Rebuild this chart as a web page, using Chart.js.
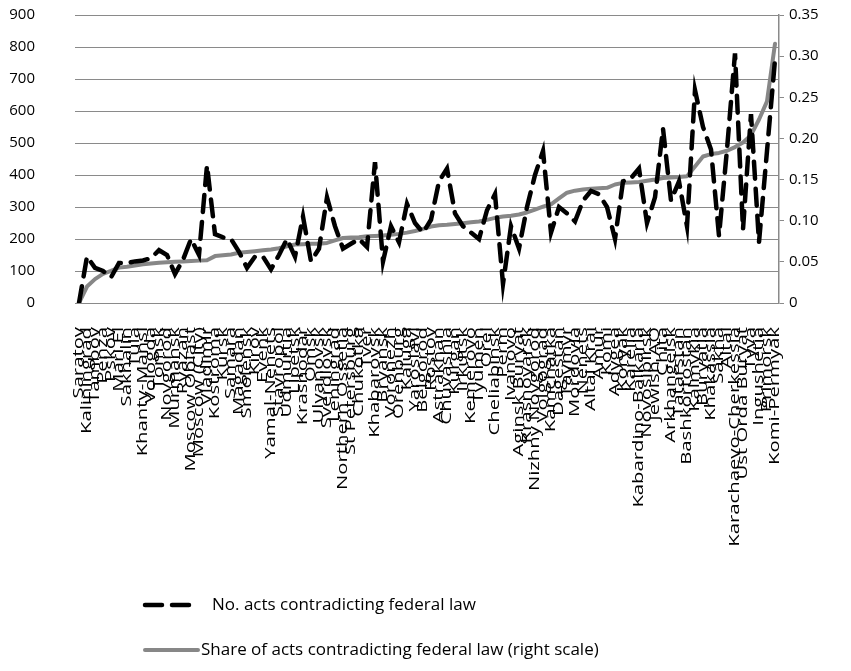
<!DOCTYPE html>
<html>
<head>
<meta charset="utf-8">
<script src="https://cdn.jsdelivr.net/npm/chart.js@4"></script>
<style>
  body { margin: 0; background: #fff; }
  #wrap { width: 851px; height: 671px; position: relative; }
</style>
</head>
<body>
<div id="wrap"><canvas id="chart"></canvas></div>
<script>
// Regions, sorted by share of acts contradicting federal law
const regions = [
    'Saratov', 'Kaliningrad', 'Tambov', 'Penza', 'Pskov', 'Mari El', 'Sakhalin', 'Tula',
    'Khanty-Mansi', 'Vologda', 'Tomsk', 'Novgorod', 'Murmansk', 'Ryazan', 'Moscow Oblast',
    'Moscow (City)', 'Vladimir', 'Kostroma', 'Kursk', 'Samara', 'Magadan', 'Smolensk', 'Kirov',
    'Evenk', 'Yamal-Nenets', 'Stavropol', 'Udmurtia', 'Lipetsk', 'Krasnodar', 'Omsk', 'Ulyanovsk',
    'Sverdlovsk', 'Leningrad', 'Northern Ossetia', 'St Petersburg', 'Chukotka', 'Tver',
    'Khabarovsk', 'Bryansk', 'Voronezh', 'Orenburg', 'Kaluga', 'Yaroslavl', 'Belgorod', 'Rostov',
    'Astrakhan', 'Chuvashia', 'Kurgan', 'Irkutsk', 'Kemerovo', 'Tyumen', 'Orel', 'Cheliabinsk',
    'Perm', 'Ivanovo', 'Aginsk Buryat', 'Krasnoyarsk', 'Nizhny Novgorod', 'Volgograd', 'Kamchatka',
    'Dagestan', 'Taymyr', 'Mordovia', 'Nenets', 'Altai Krai', 'Amur', 'Komi', 'Adygea', 'Koryak',
    'Karelia', 'Kabardino-Balkaria', 'Novosibirsk', 'Jewish AO', 'Chita', 'Arkhangelsk',
    'Tatarstan', 'Bashkortostan', 'Kalmykia', 'Buryatia', 'Khakassia', 'Sakha', 'Altai',
    'Karachaevo-Cherkessia', 'Ust Orda Buryat', 'Tyva', 'Ingushetia', 'Primorsk', 'Komi-Permyak'
];

// No. acts contradicting federal law (left scale)
const actsCount = [
    0, 145, 110, 100, 80, 125, 125, 130, 133, 140,
    165, 150, 90, 135, 200, 150, 430, 215, 205, 200,
    160, 110, 145, 145, 105, 150, 200, 145, 270, 130,
    170, 330, 240, 170, 185, 200, 175, 440, 130, 240,
    190, 310, 250, 220, 260, 380, 420, 280, 240, 220,
    200, 290, 340, 60, 240, 170, 300, 400, 475, 220,
    300, 280, 255, 320, 350, 340, 300, 200, 380, 390,
    420, 250, 330, 545, 320, 380, 240, 665, 550, 480,
    210, 480, 780, 230, 590, 190, 475, 760
];

// Share of acts contradicting federal law (right scale)
const actsShare = [
    0, 0.020, 0.029, 0.0355, 0.039, 0.043, 0.044, 0.0455, 0.047, 0.048,
    0.049, 0.0495, 0.050, 0.0505, 0.051, 0.0515, 0.052, 0.057, 0.058, 0.059,
    0.061, 0.062, 0.063, 0.064, 0.065, 0.0665, 0.069, 0.071, 0.0715, 0.072,
    0.072, 0.073, 0.076, 0.079, 0.0795, 0.080, 0.081, 0.0815, 0.082, 0.083,
    0.084, 0.0855, 0.0875, 0.090, 0.093, 0.0945, 0.095, 0.096, 0.097, 0.098,
    0.099, 0.101, 0.1035, 0.105, 0.106, 0.1075, 0.110, 0.1135, 0.117, 0.120,
    0.127, 0.134, 0.1365, 0.138, 0.139, 0.1395, 0.140, 0.144, 0.146, 0.1465,
    0.147, 0.1485, 0.150, 0.152, 0.1525, 0.153, 0.154, 0.166, 0.178, 0.181,
    0.1824, 0.185, 0.1895, 0.195, 0.204, 0.223, 0.245, 0.315
];

const leftTicks = [0, 100, 200, 300, 400, 500, 600, 700, 800, 900];
const rightTicks = [0, 0.05, 0.1, 0.15, 0.2, 0.25, 0.3, 0.35];

const FONT = "'Open Sans', sans-serif";
const GRID = '#8a8a8a';

// category names: vertical, tall and narrow like the original
const xLabels = {
    id: 'xLabels',
    afterDraw(chart) {
        const sc = chart.scales.x;
        const ctx = chart.ctx;
        ctx.save();
        ctx.font = '14px ' + FONT;
        ctx.fillStyle = '#000';
        ctx.textAlign = 'right';
        ctx.textBaseline = 'middle';
        chart.data.labels.forEach((name, i) => {
            ctx.save();
            ctx.translate(sc.getPixelForTick(i), sc.top + 24);
            ctx.rotate(-Math.PI / 2);
            ctx.scale(1.45, 1);
            ctx.fillText(name, 0, 0);
            ctx.restore();
        });
        ctx.restore();
    }
};

// legend drawn as two stacked rows, left aligned like the original
const stackedLegend = {
    id: 'stackedLegend',
    afterDraw(chart) {
        const ctx = chart.ctx;
        const rows = [{ y: 605, textX: 212 }, { y: 650, textX: 201 }];
        chart.data.datasets.forEach((ds, i) => {
            const r = rows[i];
            ctx.save();
            ctx.strokeStyle = ds.borderColor;
            ctx.lineWidth = ds.borderWidth;
            ctx.lineCap = ds.borderCapStyle;
            ctx.setLineDash(ds.borderDash || []);
            ctx.beginPath();
            ctx.moveTo(145, r.y);
            ctx.lineTo(198, r.y);
            ctx.stroke();
            ctx.setLineDash([]);
            ctx.fillStyle = '#000';
            ctx.font = '17px ' + FONT;
            ctx.textBaseline = 'middle';
            ctx.fillText(ds.label, r.textX, r.y);
            ctx.restore();
        });
    }
};

new Chart(document.getElementById('chart'), {
    type: 'line',
    data: {
        labels: regions,
        datasets: [{
            label: 'No. acts contradicting federal law',
            data: actsCount,
            yAxisID: 'y',
            borderColor: '#000000',
            borderWidth: 4.5,
            borderDash: [17, 10],
            borderCapStyle: 'round',
            pointRadius: 0,
            tension: 0
        }, {
            label: 'Share of acts contradicting federal law (right scale)',
            data: actsShare,
            yAxisID: 'y1',
            borderColor: '#878787',
            borderWidth: 4,
            borderCapStyle: 'round',
            borderJoinStyle: 'round',
            pointRadius: 0,
            tension: 0
        }]
    },
    options: {
        responsive: true,
        maintainAspectRatio: false,
        animation: false,
        layout: { padding: { top: 15, left: 0, right: 0, bottom: 0 } },
        plugins: {
            legend: { display: false },
            tooltip: { enabled: false }
        },
        scales: {
            x: {
                offset: true,
                grid: { display: false },
                border: { display: false },
                ticks: { display: false },
                afterFit(scale) { scale.height = 368; }
            },
            y: {
                position: 'left',
                min: 0,
                max: 900,
                afterBuildTicks(scale) { scale.ticks = leftTicks.map(v => ({ value: v })); },
                grid: { color: GRID, lineWidth: 1, drawTicks: true, tickLength: 36, tickColor: 'rgba(0,0,0,0)' },
                border: { display: false },
                ticks: { padding: 4, color: '#000', font: { family: FONT, size: 15 } },
                afterFit(scale) { scale.width = 75; }
            },
            y1: {
                position: 'right',
                min: 0,
                max: 0.35,
                afterBuildTicks(scale) { scale.ticks = rightTicks.map(v => ({ value: v })); },
                grid: { drawOnChartArea: false, color: GRID, tickLength: 5 },
                border: { display: true, color: GRID, width: 1.5 },
                ticks: { padding: 5, color: '#000', font: { family: FONT, size: 15 } },
                afterFit(scale) { scale.width = 72; }
            }
        }
    },
    plugins: [xLabels, stackedLegend]
});
</script>
</body>
</html>
